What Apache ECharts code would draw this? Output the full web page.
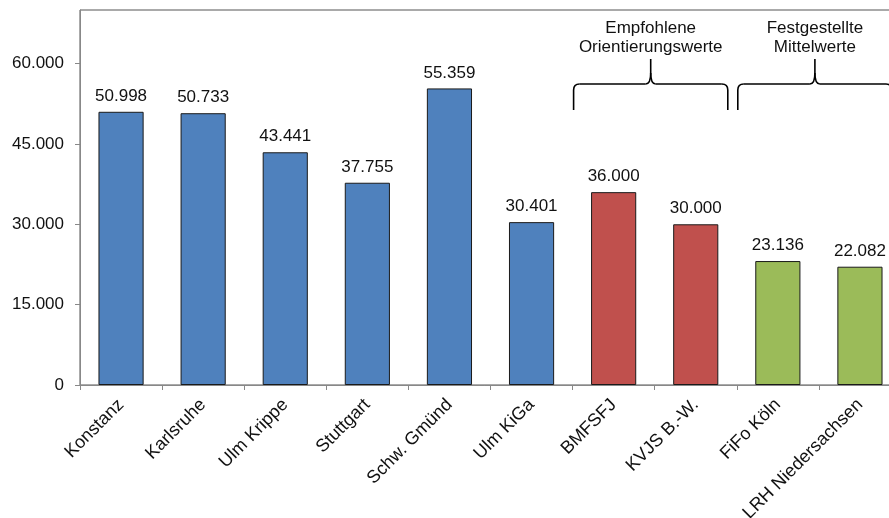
<!DOCTYPE html>
<html>
<head>
<meta charset="utf-8">
<script src="https://cdn.jsdelivr.net/npm/echarts@6/dist/echarts.min.js"></script>
<style>
  html, body { margin: 0; padding: 0; background: #fff; }
  #chart { width: 889px; height: 518px; }
</style>
</head>
<body>
<div id="chart"></div>
<script>
// Kosten pro Platz (Euro) je Einrichtung / Quelle
const categories = ['Konstanz', 'Karlsruhe', 'Ulm Krippe', 'Stuttgart', 'Schw. Gmünd', 'Ulm KiGa',
                    'BMFSFJ', 'KVJS B.-W.', 'FiFo Köln', 'LRH Niedersachsen'];
const values = [50998, 50733, 43441, 37755, 55359, 30401, 36000, 30000, 23136, 22082];
// group of each category: 0 = Kommunen, 1 = Orientierungswerte, 2 = Mittelwerte
const groupOf = [0, 0, 0, 0, 0, 0, 1, 1, 2, 2];
const groupColors = ['#4F81BD', '#C0504D', '#9BBB59'];
const yTicks = [0, 15000, 30000, 45000, 60000];
// bracketed annotations: first and last category index, two text lines
const brackets = [
  { from: 6, to: 7, lines: ['Empfohlene', 'Orientierungswerte'] },
  { from: 8, to: 9, lines: ['Festgestellte', 'Mittelwerte'] }
];

const FONT = 'Liberation Sans, Arial, sans-serif';
const fmt = v => v === 0 ? '0' : v.toLocaleString('de-DE');

const chart = echarts.init(document.getElementById('chart'));
chart.setOption({
  animation: false,
  backgroundColor: '#fff',
  grid: {
    left: 80, top: 10, width: 821, bottom: 133,
    outerBoundsMode: 'none', containLabel: false,
    show: true, borderColor: '#555', borderWidth: 1, backgroundColor: 'transparent'
  },
  xAxis: {
    type: 'category',
    data: categories,
    axisLine: { lineStyle: { color: '#888', width: 1 } },
    axisTick: { show: true, length: 5, lineStyle: { color: '#888' } },
    axisLabel: {
      rotate: 45, interval: 0, margin: 17,
      color: '#111', fontSize: 18, fontFamily: FONT
    }
  },
  yAxis: {
    type: 'value',
    min: 0, max: 70000, interval: 15000,
    splitLine: { show: false },
    axisLine: { show: true, lineStyle: { color: '#888', width: 1 } },
    axisTick: { show: true, length: 5, lineStyle: { color: '#888' } },
    axisLabel: {
      showMaxLabel: false, margin: 16,
      color: '#111', fontSize: 17, fontFamily: FONT,
      formatter: v => yTicks.indexOf(v) >= 0 ? fmt(v) : ''
    }
  },
  series: [{
    type: 'bar',
    barCategoryGap: '45%',
    data: values.map((v, i) => ({
      value: v,
      itemStyle: { color: groupColors[groupOf[i]] }
    })),
    itemStyle: { borderColor: '#1a1a1a', borderWidth: 1 },
    label: {
      show: true, position: 'top', distance: 7,
      color: '#111', fontSize: 17, fontFamily: FONT,
      formatter: p => fmt(p.value)
    }
  }]
});

// curly braces with their captions above the grouped categories
function drawBrackets() {
  const c0 = chart.convertToPixel({ xAxisIndex: 0 }, 0);
  const c1 = chart.convertToPixel({ xAxisIndex: 0 }, 1);
  const band = c1 - c0;
  const stroke = { stroke: '#000', lineWidth: 1.6, fill: null };
  const elements = [];
  const line = (ax, ay, bx, by) => elements.push({
    type: 'line', silent: true,
    shape: { x1: ax, y1: ay, x2: bx, y2: by }, style: stroke
  });
  const curve = (ax, ay, cx, cy, bx, by) => elements.push({
    type: 'bezierCurve', silent: true,
    shape: { x1: ax, y1: ay, cpx1: cx, cpy1: cy, x2: bx, y2: by }, style: stroke
  });
  brackets.forEach(b => {
    const x0 = chart.convertToPixel({ xAxisIndex: 0 }, b.from) - band / 2 + 1;
    const x1 = chart.convertToPixel({ xAxisIndex: 0 }, b.to) + band / 2 - 9;
    const xm = (x0 + x1) / 2;
    const yH = 84, yEnd = 110, yTip = 59, r = 6;
    line(x0, yEnd, x0, yH + r);
    curve(x0, yH + r, x0, yH, x0 + r, yH);
    line(x0 + r, yH, xm - 5, yH);
    curve(xm - 5, yH, xm, yH, xm, yTip + 14);
    line(xm, yTip + 14, xm, yTip);
    curve(xm, yTip + 14, xm, yH, xm + 5, yH);
    line(xm + 5, yH, x1 - r, yH);
    curve(x1 - r, yH, x1, yH, x1, yH + r);
    line(x1, yH + r, x1, yEnd);
    b.lines.forEach((t, k) => {
      elements.push({
        type: 'text', silent: true,
        x: xm, y: 28 + k * 19,
        style: {
          text: t, fill: '#111', font: '17px ' + FONT,
          align: 'center', verticalAlign: 'middle'
        }
      });
    });
  });
  chart.setOption({ graphic: elements });
}
drawBrackets();
</script>
</body>
</html>
